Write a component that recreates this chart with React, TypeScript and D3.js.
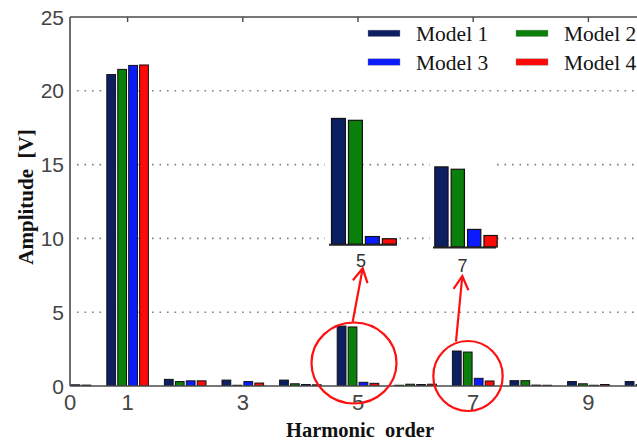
import React from 'react';
import * as d3 from 'd3';

const harmonics = [0, 1, 2, 3, 4, 5, 6, 7, 8, 9, 10];
const seriesNames = ['Model 1', 'Model 2', 'Model 3', 'Model 4'];
const seriesColors = ['#0c1f63', '#0a7f0a', '#0a1cff', '#ff0808'];
const model1 = [0.05, 21.1, 0.45, 0.4, 0.4, 4.06, 0.05, 2.37, 0.36, 0.3, 0.3];
const model2 = [0.05, 21.45, 0.3, 0.05, 0.15, 4.0, 0.12, 2.3, 0.36, 0.15, 0.1];
const model3 = [0.08, 21.72, 0.35, 0.3, 0.1, 0.25, 0.1, 0.52, 0.06, 0.05, 0.05];
const model4 = [0.06, 21.75, 0.35, 0.2, 0.08, 0.18, 0.12, 0.34, 0.05, 0.1, 0.05];
const seriesValues = [model1, model2, model3, model4];
const yTicks = [0, 5, 10, 15, 20, 25];
const gridValues = [5, 10, 15, 20];
const xTickLabels = [0, 1, 3, 5, 7, 9];
const topTicks = [1, 3, 5, 7, 9];

const W = 637;
const H = 445;
const L = 70, T = 17, B = 386;
const unit = 57.6;

const SANS = "'Liberation Sans', Arial, sans-serif";
const SERIF = "'Liberation Serif', 'Times New Roman', serif";

const insets = [
  { h: 5, x0: 331.5, baseline: 244.3, ppu: 31.0, step: 16.2, bw: 13.3, axis: [329, 397], label: [361, 266.5],
    bg: 'M325,112 L362,112 L362,226 L398,226 L398,250 L325,250 Z' },
  { h: 7, x0: 434.8, baseline: 247, ppu: 33.8, step: 15.6, bw: 12.6, axis: [433, 496], label: [462.5, 271.5],
    bg: 'M430,156 L497,156 L497,252 L430,252 Z' },
];

const circles = [
  { cx: 354, cy: 363, rx: 42.5, ry: 40.5 },
  { cx: 468, cy: 376, rx: 34.7, ry: 35 },
];

const arrows = [
  { x1: 352.7, y1: 321.7, x2: 362.7, y2: 268.3 },
  { x1: 456, y1: 341.7, x2: 462.3, y2: 276 },
];

export default function App() {
  const x = d3.scaleLinear().domain([0, 11]).range([L, L + 11 * unit]);
  const y = d3.scaleLinear().domain([0, 25]).range([B, T]);
  const x1 = d3.scaleBand<string>().domain(seriesNames).range([-20.8, 20.8]).paddingInner(0.2);

  const arrowHead = (a: typeof arrows[0]) => {
    const ang = Math.atan2(a.y1 - a.y2, a.x1 - a.x2);
    const len = 15.5, spread = 0.5;
    const p1 = [a.x2 + len * Math.cos(ang - spread), a.y2 + len * Math.sin(ang - spread)];
    const p2 = [a.x2 + len * Math.cos(ang + spread), a.y2 + len * Math.sin(ang + spread)];
    return `M${p1[0]},${p1[1]} L${a.x2},${a.y2} L${p2[0]},${p2[1]}`;
  };

  return (
    <svg width={W} height={H} style={{ position: 'absolute', left: 0, top: 0, background: '#fff' }}>
      <defs>
        <clipPath id="plot">
          <rect x={L} y={T} width={W - L} height={B - T} />
        </clipPath>
      </defs>
      <rect x={0} y={0} width={W} height={H} fill="#fff" />
      {gridValues.map((g) => (
        <line key={g} x1={L + 7} x2={W} y1={y(g)} y2={y(g)} stroke="#808080" strokeWidth={1.6}
          strokeDasharray="1.6 5.9" />
      ))}
      <g clipPath="url(#plot)">
        {harmonics.map((h, hi) => (
          <g key={h} transform={`translate(${x(h)},0)`}>
            {seriesNames.map((s, si) => {
              const v = seriesValues[si][hi];
              return (
                <rect key={s} x={x1(s)} y={y(v)} width={x1.bandwidth()} height={B - y(v)}
                  fill={seriesColors[si]} stroke="#111" strokeWidth={1} />
              );
            })}
          </g>
        ))}
      </g>
      {insets.map((ins) => {
        const hi = harmonics.indexOf(ins.h);
        const bx = d3.scaleBand<string>().domain(seriesNames)
          .range([ins.x0, ins.x0 + 4 * ins.step]).paddingInner(1 - ins.bw / ins.step).paddingOuter(0);
        const iy = d3.scaleLinear().domain([0, 1]).range([ins.baseline, ins.baseline - ins.ppu]);
        return (
          <g key={ins.h}>
            <path d={ins.bg} fill="#fff" />
            {seriesNames.map((s, si) => {
              const v = seriesValues[si][hi];
              return (
                <rect key={s} x={bx(s)} y={iy(v)} width={bx.bandwidth()} height={ins.baseline - iy(v)}
                  fill={seriesColors[si]} stroke="#111" strokeWidth={1.2} />
              );
            })}
            <line x1={ins.axis[0]} x2={ins.axis[1]} y1={ins.baseline + 0.5} y2={ins.baseline + 0.5}
              stroke="#222" strokeWidth={2} />
            <text x={ins.label[0]} y={ins.label[1]} textAnchor="middle" fontFamily={SANS}
              fontSize={18} fill="#333">{ins.h}</text>
          </g>
        );
      })}
      <line x1={L} x2={L} y1={T} y2={B} stroke="#4a4a4a" strokeWidth={1.6} />
      <line x1={L} x2={W} y1={T} y2={T} stroke="#4a4a4a" strokeWidth={1.6} />
      <line x1={L} x2={W} y1={B} y2={B} stroke="#4a4a4a" strokeWidth={1.6} />
      {topTicks.map((t) => (
        <line key={t} x1={x(t)} x2={x(t)} y1={T} y2={T + 5} stroke="#4a4a4a" strokeWidth={1.4} />
      ))}
      {yTicks.map((t) => (
        <text key={t} x={64} y={y(t)} dy="0.36em" textAnchor="end" fontFamily={SANS}
          fontSize={21} fill="#444">{t}</text>
      ))}
      {xTickLabels.map((t) => (
        <text key={t} x={x(t)} y={410} textAnchor="middle" fontFamily={SANS}
          fontSize={22} fill="#444">{t}</text>
      ))}
      <text transform="translate(33,197) rotate(-90)" textAnchor="middle" fontFamily={SERIF}
        fontWeight="bold" fontSize={21} fill="#111">{'Amplitude\u00a0\u00a0[V]'}</text>
      <text x={360} y={437} textAnchor="middle" fontFamily={SERIF}
        fontWeight="bold" fontSize={20.5} fill="#111">{'Harmonic\u00a0\u00a0order'}</text>
      {circles.map((c, i) => (
        <ellipse key={i} cx={c.cx} cy={c.cy} rx={c.rx} ry={c.ry} fill="none" stroke="#ff1010" strokeWidth={2.2} />
      ))}
      {arrows.map((a, i) => (
        <g key={i} stroke="#ff1010" strokeWidth={2.2} fill="none">
          <line x1={a.x1} y1={a.y1} x2={a.x2} y2={a.y2} />
          <path d={arrowHead(a)} strokeLinejoin="miter" />
        </g>
      ))}
      {seriesNames.map((s, i) => {
        const col = i % 2;
        const row = Math.floor(i / 2);
        const sx = col === 0 ? 368 : 516;
        const sy = row === 0 ? 33.3 : 62;
        return (
          <g key={s}>
            <rect x={sx} y={sy - 3.2} width={32} height={6.4} fill={seriesColors[i]} stroke="#888" strokeWidth={0.4} />
            <text x={sx + 48} y={sy + 7.5} fontFamily={SERIF} fontSize={21.5}
              fill="#141414">{s}</text>
          </g>
        );
      })}
    </svg>
  );
}
